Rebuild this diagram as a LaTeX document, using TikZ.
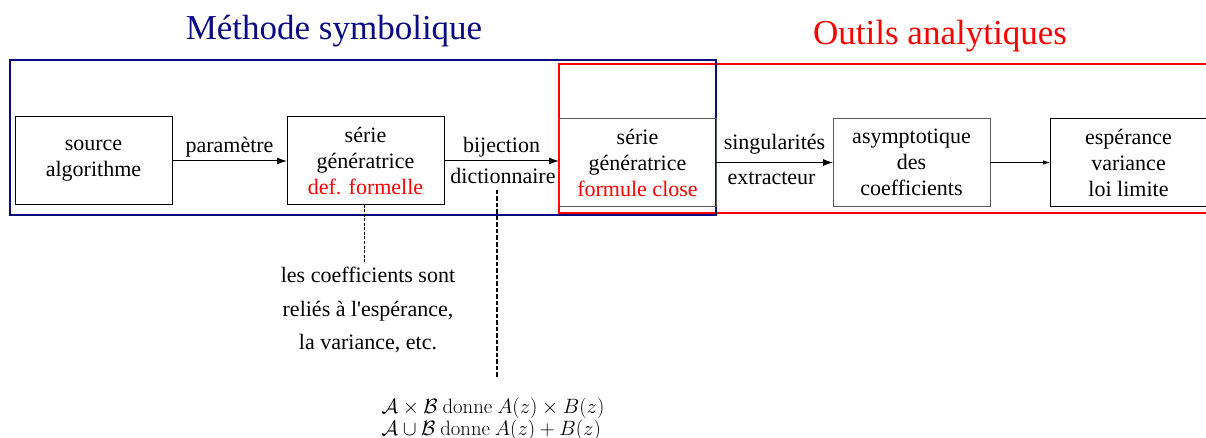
\documentclass[tikz,border=0pt]{standalone}
\usepackage[no-math]{fontspec}
\setmainfont{Liberation Serif}
\usepackage{amsmath}
\usepackage{amssymb}
\usetikzlibrary{positioning, calc, arrows.meta}
\definecolor{bleunuit}{RGB}{10,10,130}
\tikzstyle{boite} = [
    rectangle,
    minimum width = 157pt,
    minimum height = 88pt,
    align = center,
    inner sep = 2pt,
    outer sep = 0pt,
    draw = black!85,
    line width = 1pt,
    font = \fontsize{22}{26}\selectfont,
]
\tikzstyle{etiquette} = [font = \fontsize{22}{26}\selectfont, inner sep = 1pt]
\tikzstyle{fleche} = [-{Latex[length = 10pt, width = 7pt]}, line width = 1pt]
\tikzstyle{titre} = [anchor = base, font = \fontsize{35}{40}\selectfont]

\begin{document}
\begin{tikzpicture}[x = 1pt, y = -1pt]
    \useasboundingbox (0,0) rectangle (1206,438);

    \node (Methode) [titre, text = bleunuit] at (334,40) {Méthode symbolique};
    \node (Outils) [titre, text = red] at (940,45) {Outils analytiques};

    % cadres
    \draw[red, line width = 2pt] (1230,64) -- (559,64) -- (559,213) -- (1230,213);
    \draw[bleunuit, line width = 1.8pt] (10,60) rectangle (716,215);

    \node (Source) [boite, draw = black] at (93.5,161) {source\\algorithme};
    \node (SerieDef) [boite, draw = black, right = 115pt of Source] {série\\génératrice\\\textcolor{red}{def. formelle}};
    \node (SerieClose) [boite, draw = black!65, right = 115pt of SerieDef, yshift = -1.5pt] {série\\génératrice\\\textcolor{red}{formule close}};
    \node (Asymptotique) [boite, draw = black!65, right = 117pt of SerieClose] {asymptotique\\des\\coefficients};
    \node (Esperance) [boite, draw = black, right = 60pt of Asymptotique] {espérance\\variance\\loi limite};

    \draw[fleche] (Source) -- node[etiquette, above = 2pt] {paramètre} (SerieDef);
    \draw[fleche] (SerieDef.east) -- node[etiquette, above = 2pt] {bijection}
        node (Dictionnaire) [etiquette, below = 6pt, xshift = 1.5pt] {dictionnaire} (SerieClose.west |- SerieDef.east);
    \draw[fleche] (SerieClose) -- node[etiquette, above = 7pt] {singularités}
        node[etiquette, below = 8pt, xshift = -3pt] {extracteur} (Asymptotique);
    \draw[line width = 0.9pt, -{Latex[length = 7pt, width = 4.5pt]}] (Asymptotique) -- (Esperance);

    % remarques
    \node (Coefficients) [anchor = north, inner sep = 0pt, align = center, font = \fontsize{22}{33.5}\selectfont] at (368,267)
        {les coefficients sont\\ reliés à l\textquotesingle espérance,\\la variance, etc.};
    \node (Formules) [anchor = north, inner sep = 0pt, align = left, font = \fontsize{19.5}{22}\selectfont] at (493,398)
        {$\mathcal{A}\times\mathcal{B}\ \mathrm{donne}\ A(z)\times B(z)$\\
         $\mathcal{A}\cup\mathcal{B}\ \mathrm{donne}\ A(z)+B(z)$};

    \coordinate (PiedDict) at (497,190);
    \draw[line width = 0.8pt, dash pattern = on 3pt off 1.5pt, shorten > = 4pt] (SerieDef.south -| 364,0) -- (364,0 |- Coefficients.north);
    \draw[line width = 1.4pt, dash pattern = on 4.5pt off 2pt, shorten > = 20pt] (PiedDict) -- (PiedDict |- Formules.north);
\end{tikzpicture}
\end{document}
